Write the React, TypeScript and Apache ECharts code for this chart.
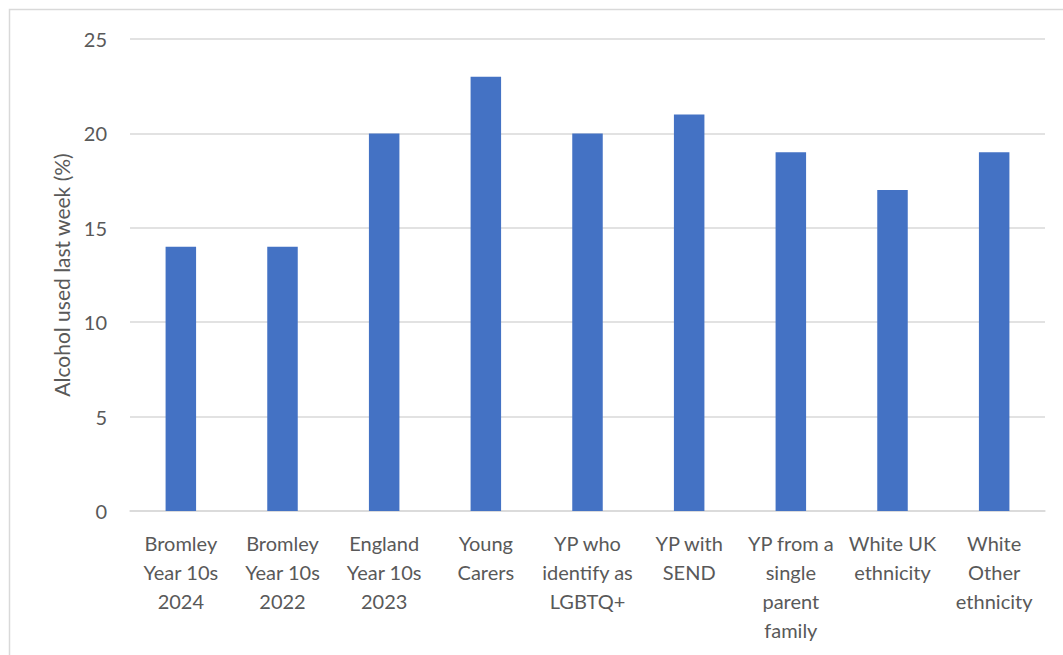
import React, { useEffect, useRef } from "react";
import * as echarts from "echarts";

const categories = [
  "Bromley\nYear 10s\n2024",
  "Bromley\nYear 10s\n2022",
  "England\nYear 10s\n2023",
  "Young\nCarers",
  "YP who\nidentify as\nLGBTQ+",
  "YP with\nSEND",
  "YP from a\nsingle\nparent\nfamily",
  "White UK\nethnicity",
  "White\nOther\nethnicity",
];
const values = [14, 14, 20, 23, 20, 21, 19, 17, 19];
const yTitle = "Alcohol used last week (%)";

export default function App() {
  const ref = useRef<HTMLDivElement>(null);
  useEffect(() => {
    if (!ref.current) return;
    const chart = echarts.init(ref.current, undefined, { renderer: "svg" });
    const font = "Lato, 'Open Sans', sans-serif";
    chart.setOption({
      animation: false,
      backgroundColor: "#ffffff",
      graphic: [
        {
          type: "rect",
          shape: { x: 9.5, y: 9.5, width: 1200, height: 800 },
          style: { fill: "none", stroke: "#d9d9d9", lineWidth: 1.5 },
          silent: true,
        },
      ],
      grid: { left: 130, right: 18, top: 39, bottom: 144 },
      xAxis: {
        type: "category",
        data: categories,
        axisLine: { lineStyle: { color: "#d9d9d9", width: 1.5 } },
        axisTick: { show: false },
        axisLabel: {
          interval: 0,
          color: "#595959",
          fontFamily: font,
          fontSize: 20,
          lineHeight: 29,
          margin: 17,
        },
      },
      yAxis: {
        type: "value",
        min: 0,
        max: 25,
        interval: 5,
        name: yTitle,
        nameLocation: "middle",
        nameGap: 58,
        nameTextStyle: { color: "#595959", fontFamily: font, fontSize: 21 },
        axisLine: { show: false },
        axisTick: { show: false },
        axisLabel: { color: "#595959", fontFamily: font, fontSize: 20, margin: 23 },
        splitLine: { lineStyle: { color: "#d9d9d9", width: 1.5 } },
      },
      series: [
        {
          type: "bar",
          data: values,
          barWidth: "30%",
          itemStyle: { color: "#4472C4" },
        },
      ],
    });
    return () => chart.dispose();
  }, []);
  return (
    <div
      ref={ref}
      style={{ position: "fixed", left: 0, top: 0, width: 1063, height: 655 }}
    />
  );
}
